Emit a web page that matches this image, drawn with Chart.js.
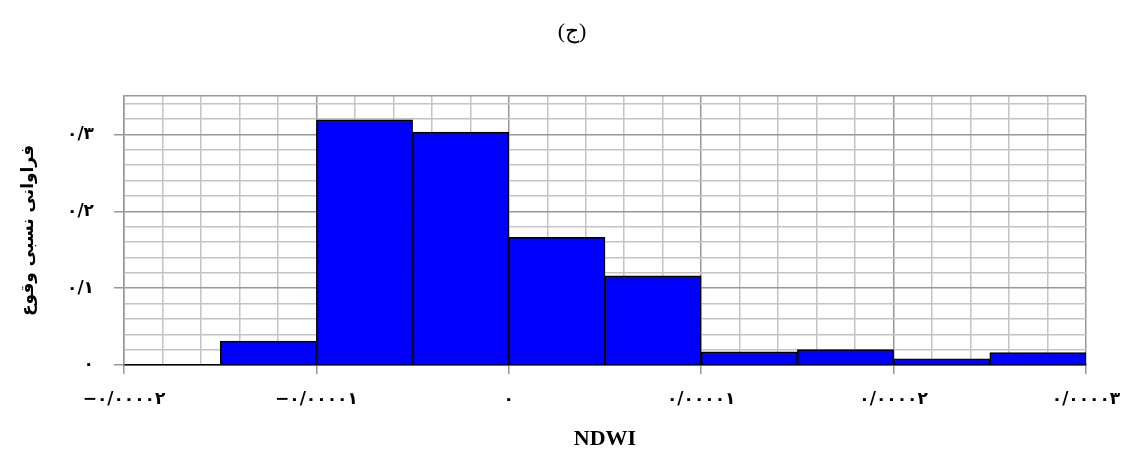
<!DOCTYPE html>
<html>
<head>
<meta charset="utf-8">
<script src="https://cdn.jsdelivr.net/npm/chart.js@4.4.1/dist/chart.umd.min.js"></script>
<style>
    html, body { margin: 0; padding: 0; background: #fff; }
</style>
</head>
<body>
<canvas id="histChart" width="1130" height="455"></canvas>
<script>
// histogram bins (centres) and relative frequency of each bin
const binCenters = [-0.0000175, -0.0000125, -0.0000075, -0.0000025, 0.0000025, 0.0000075, 0.0000125, 0.0000175, 0.0000225, 0.0000275];
const frequencies = [0, 0.031, 0.319, 0.303, 0.166, 0.116, 0.017, 0.020, 0.008, 0.016];

// labelled ticks
const xMajorTicks = [-0.00002, -0.00001, 0, 0.00001, 0.00002, 0.00003];
const yMajorTicks = [0, 0.1, 0.2, 0.3];

const chartTitle = '(ج)';
const xTitle = 'NDWI';
const yTitle = 'فراوانی نسبی وقوع';

const persianDigits = '۰۱۲۳۴۵۶۷۸۹';

function toPersian(str) {
    return str.replace(/[0-9]/g, d => persianDigits[d]).replace('.', '/').replace('-', '−');
}

function isMajor(value, list) {
    return list.some(m => Math.abs(m - value) < 1e-10);
}

// minor grid: 5 divisions between labelled ticks
function xGridTicks() {
    const ticks = [];
    for (let i = 0; i <= 25; i++) ticks.push({ value: (-20 + i * 2) / 1e6 });
    return ticks;
}

function yGridTicks() {
    const ticks = [];
    for (let i = 0; i <= 17; i++) ticks.push({ value: (i * 2) / 100 });
    ticks.push({ value: 0.35 });
    return ticks;
}

const minorGrid = '#c4c4c4';
const majorGrid = '#989898';
const tickFont = { family: 'DejaVu Sans', size: 17, weight: 'bold' };

function gridColor(c, majors) {
    if (!c.tick) return majorGrid;
    return isMajor(c.tick.value, majors) || c.tick.value === 0.35 ? majorGrid : minorGrid;
}

function tickMarkColor(c, majors) {
    if (!c.tick) return majorGrid;
    return isMajor(c.tick.value, majors) ? majorGrid : 'rgba(0,0,0,0)';
}

// small caption "(ج)" above the plot, centred on the page
const captionPlugin = {
    id: 'caption',
    afterDraw(chart) {
        const c = chart.ctx;
        c.save();
        c.fillStyle = '#000';
        c.font = '22px "Liberation Serif"';
        c.textAlign = 'center';
        c.textBaseline = 'middle';
        c.fillText(chartTitle, chart.width / 2 + 7, 32);
        c.restore();
    }
};

const ctx = document.getElementById('histChart').getContext('2d');
new Chart(ctx, {
    type: 'bar',
    data: {
        datasets: [{
            data: binCenters.map((x, i) => ({ x: x, y: frequencies[i] })),
            backgroundColor: '#0000ff',
            borderColor: '#000000',
            borderWidth: 1.5,
            barThickness: 'flex',
            barPercentage: 1,
            categoryPercentage: 1
        }]
    },
    plugins: [captionPlugin],
    options: {
        responsive: false,
        animation: false,
        layout: { padding: { left: 0, right: 44, top: 96, bottom: 0 } },
        plugins: {
            legend: { display: false },
            tooltip: { enabled: false },
            title: { display: false }
        },
        scales: {
            x: {
                type: 'linear',
                min: -0.00002,
                max: 0.00003,
                offset: false,
                afterBuildTicks: scale => { scale.ticks = xGridTicks(); },
                afterFit: scale => {
                    scale.height = 90;
                    scale.paddingLeft = 0;
                    scale.paddingRight = 0;
                },
                grid: {
                    offset: false,
                    lineWidth: 1.5,
                    color: c => gridColor(c, xMajorTicks),
                    tickColor: c => tickMarkColor(c, xMajorTicks),
                    tickLength: 9
                },
                border: { color: '#000', width: 1.5 },
                ticks: {
                    autoSkip: false,
                    maxRotation: 0,
                    minRotation: 0,
                    padding: 15,
                    color: '#000',
                    font: tickFont,
                    callback: value => {
                        if (!isMajor(value, xMajorTicks)) return '';
                        if (Math.abs(value) < 1e-12) return '۰';
                        return toPersian(value.toFixed(5));
                    }
                },
                title: {
                    display: true,
                    text: xTitle,
                    color: '#000',
                    font: { family: 'Liberation Serif', size: 22, weight: 'bold' },
                    padding: { top: 0, bottom: 2 }
                }
            },
            y: {
                min: 0,
                max: 0.35,
                afterBuildTicks: scale => { scale.ticks = yGridTicks(); },
                afterFit: scale => { scale.width = 124; },
                grid: {
                    lineWidth: 1.5,
                    color: c => gridColor(c, yMajorTicks),
                    tickColor: c => tickMarkColor(c, yMajorTicks),
                    tickLength: 10
                },
                border: { color: majorGrid, width: 1.5 },
                ticks: {
                    autoSkip: false,
                    padding: 20,
                    color: '#000',
                    font: tickFont,
                    callback: value => {
                        if (!isMajor(value, yMajorTicks)) return '';
                        if (value === 0) return '۰';
                        return toPersian(value.toFixed(1));
                    }
                },
                title: {
                    display: true,
                    text: yTitle,
                    color: '#000',
                    font: { family: 'DejaVu Sans', size: 17, weight: 'bold' },
                    padding: { top: 18, bottom: 0 }
                }
            }
        }
    }
});
</script>
</body>
</html>
